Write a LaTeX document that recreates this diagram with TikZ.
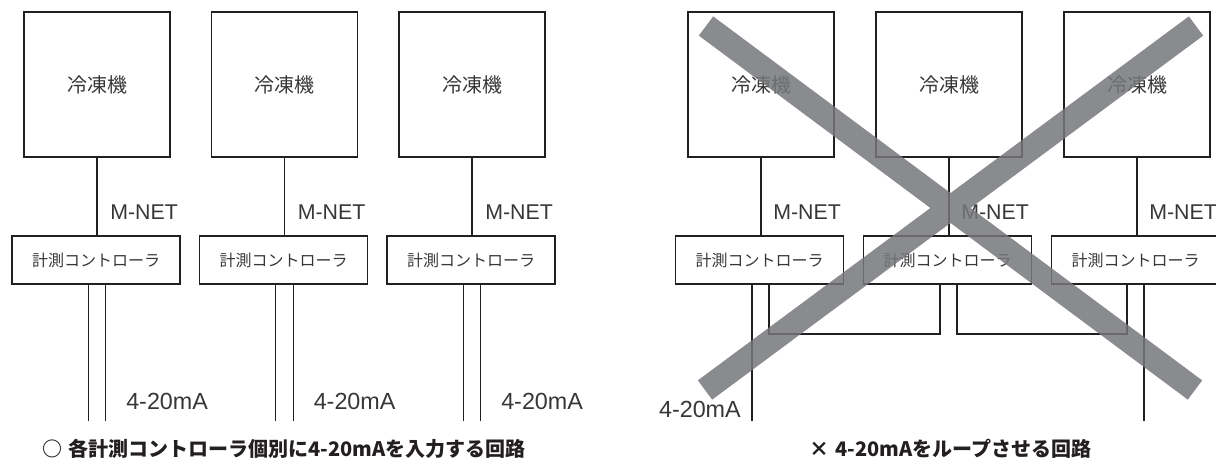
\documentclass[tikz,border=0pt]{standalone}
\usepackage{fontspec}
\setmainfont{Liberation Sans}
\newfontfamily\jp{Noto Sans CJK JP}

\definecolor{ink}{RGB}{35,31,32}
\definecolor{textgray}{RGB}{55,55,55}
\definecolor{crossgray}{RGB}{118,119,122}

\tikzset{
  unitbox/.style={draw=ink, line width=1.4pt, minimum width=109.5pt,
    minimum height=108.75pt, inner sep=0pt, text=textgray,
    font=\jp\fontsize{15}{18}\selectfont},
  ctrlbox/.style={draw=ink, line width=1.4pt, minimum width=126pt,
    minimum height=36pt, inner sep=0pt, text=textgray,
    font=\jp\fontsize{12}{14}\selectfont},
  wire/.style={draw=ink, line width=0.8pt},
  heavywire/.style={draw=ink, line width=1.7pt},
  netlabel/.style={inner sep=0pt, text=textgray, font=\fontsize{16}{19}\selectfont},
  siglabel/.style={inner sep=0pt, text=textgray, font=\fontsize{17.5}{20}\selectfont},
  caption/.style={inner sep=0pt, text=ink, font=\jp\bfseries\fontsize{15}{18}\selectfont},
  crossbar/.style={draw=crossgray, line width=18pt, draw opacity=0.85}
}

\begin{document}
\begin{tikzpicture}[x=0.75pt,y=-0.75pt]

  % One unit = one pixel of the 1216 x 460 picture, y pointing down.
  \useasboundingbox (0,0) rectangle (1216,460);
  \clip (0,0) rectangle (1216,460);

  % Left: every controller gets its own 4-20mA pair
  \foreach \i/\cx in {1/97,2/284.5,3/472}{
    \node[unitbox] (lch\i) at (\cx,84.5) {冷凍機};
    \node[ctrlbox] (lct\i) at (\cx-1,260) {計測コントローラ};
    \draw[wire] (lch\i.south) -- (lct\i.north -| lch\i.south);
    \node[netlabel, anchor=west] (lnet\i) at (\cx+13,212) {M-NET};
    \coordinate (lina\i) at (\cx-8.7,421);
    \coordinate (linb\i) at (\cx+8.7,421);
    \draw[wire] (lct\i.south -| lina\i) -- (lina\i);
    \draw[wire] (lct\i.south -| linb\i) -- (linb\i);
    \node[siglabel, anchor=west] (lsig\i) at (\cx+29,401) {4-20mA};
  }

  % Right: one 4-20mA signal looped through all controllers
  \foreach \i/\cx in {1/761,2/949,3/1137}{
    \node[unitbox] (rch\i) at (\cx,84.5) {冷凍機};
    \node[ctrlbox] (rct\i) at (\cx-1.5,260) {計測コントローラ};
    \node[netlabel, anchor=west] (rnet\i) at (\cx+12,212) {M-NET};
  }
  \draw[wire] (rch1.south) -- (rct1.north -| rch1.south);
  \draw[heavywire] (rch2.south) -- (rct2.north -| rch2.south);
  \draw[wire] (rch3.south) -- (rct3.north -| rch3.south);

  \coordinate (rinL) at (752,421);
  \coordinate (rinR) at (1144,421);
  \coordinate (loopA) at (769,334);
  \coordinate (loopB) at (940,334);
  \coordinate (loopC) at (957,334);
  \coordinate (loopD) at (1127,334);
  \draw[heavywire] (rct1.south -| rinL) -- (rinL);
  \draw[heavywire] (rct3.south -| rinR) -- (rinR);
  \draw[wire] (rct1.south -| loopA) |- (loopB) -- (rct2.south -| loopB);
  \draw[wire] (rct2.south -| loopC) |- (loopD) -- (rct3.south -| loopD);
  \node[siglabel, anchor=east] (rsig) at (741,409) {4-20mA};

  % Big grey cross over the right circuit
  \draw[crossbar] (706,26) -- (1195,390) (1196,26) -- (705,390);

  % Captions
  \node[caption] (lcap) at (284,449) {○\hspace{0.3em}各計測コントローラ個別に4-20mAを入力する回路};
  \node[caption] (rcap) at (950.5,449) {×\hspace{0.3em}4-20mAをループさせる回路};

\end{tikzpicture}
\end{document}
